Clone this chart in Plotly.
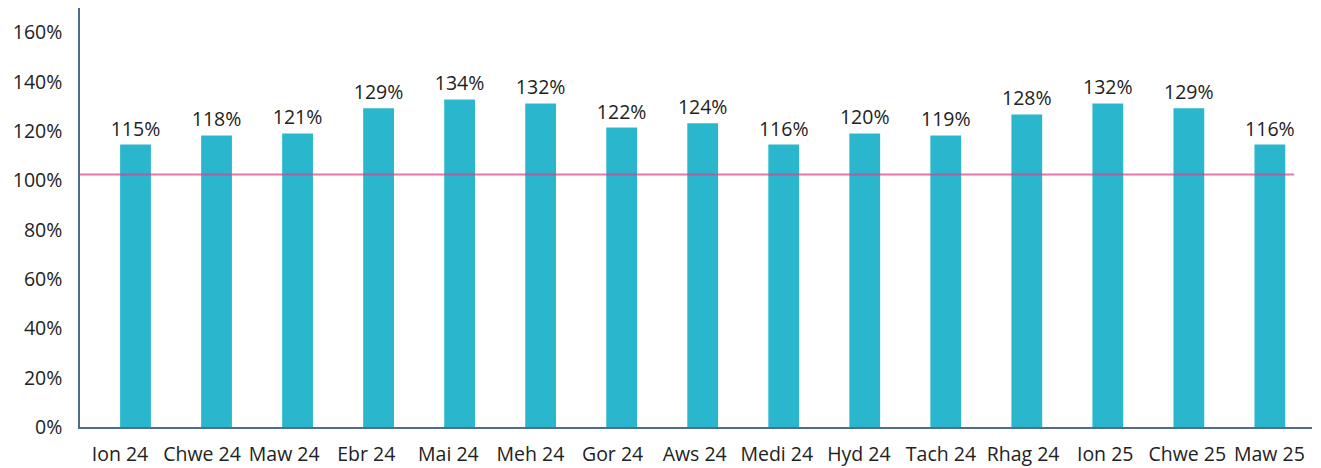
import plotly.graph_objects as go

categories = ["Ion 24", "Chwe 24", "Maw 24", "Ebr 24", "Mai 24", "Meh 24", "Gor 24",
              "Aws 24", "Medi 24", "Hyd 24", "Tach 24", "Rhag 24", "Ion 25", "Chwe 25", "Maw 25"]
bar_values = [114.6, 118.3, 119.1, 129.3, 132.9, 131.3, 121.5, 123.2, 114.6, 119.1,
              118.3, 126.8, 131.3, 129.3, 114.6]
bar_labels = ["115%", "118%", "121%", "129%", "134%", "132%", "122%", "124%", "116%",
              "120%", "119%", "128%", "132%", "129%", "116%"]
target_value = 102.4
y_tickvals = [0, 20, 40, 60, 80, 100, 120, 140, 160]
y_ticktext = ["0%", "20%", "40%", "60%", "80%", "100%", "120%", "140%", "160%"]

FONT = "Open Sans"
TXT = "#222222"

fig = go.Figure()
fig.add_trace(go.Bar(
    x=categories, y=bar_values, text=bar_labels, textposition="outside",
    constraintext="none",
    textfont=dict(family=FONT, size=19.5, color=TXT),
    marker=dict(color="#2AB7CE", line=dict(width=0)),
    width=0.38, cliponaxis=False, hoverinfo="skip",
))
# invisible trace carrying the category tick labels on a slightly wider-spaced axis
fig.add_trace(go.Scatter(
    x=categories, y=bar_values, xaxis="x2", mode="markers",
    marker=dict(opacity=0), hoverinfo="skip", showlegend=False,
))

fig.add_shape(type="line", xref="x", yref="y", x0=-0.685, x1=14.3,
              y0=target_value, y1=target_value,
              line=dict(color="rgba(220,60,140,0.7)", width=2), layer="above")

fig.update_layout(
    width=1313, height=460,
    margin=dict(l=72, r=9, t=0, b=41, autoexpand=False),
    paper_bgcolor="white", plot_bgcolor="white",
    showlegend=False,
    font=dict(family=FONT, size=19.5, color=TXT),
    uniformtext=dict(minsize=19.5, mode="show"),
    xaxis=dict(range=[-0.685, 14.52], showgrid=False, zeroline=False,
               showline=True, linecolor="#4D6F8D", linewidth=1.5,
               ticks="", showticklabels=False, fixedrange=True, automargin=False),
    xaxis2=dict(overlaying="x", side="bottom", range=[-0.487, 14.519],
                showgrid=False, zeroline=False, showline=False, ticks="",
                tickfont=dict(family=FONT, size=19.5, color=TXT),
                ticklabelstandoff=13, fixedrange=True, automargin=False),
    yaxis=dict(range=[0, 170], showgrid=False, zeroline=False,
               showline=True, linecolor="#4D6F8D", linewidth=1.5,
               tickvals=y_tickvals, ticktext=y_ticktext, ticks="",
               tickfont=dict(family=FONT, size=19.5, color=TXT),
               ticklabelstandoff=12, fixedrange=True, automargin=False),
)

fig.write_html("out.html")
